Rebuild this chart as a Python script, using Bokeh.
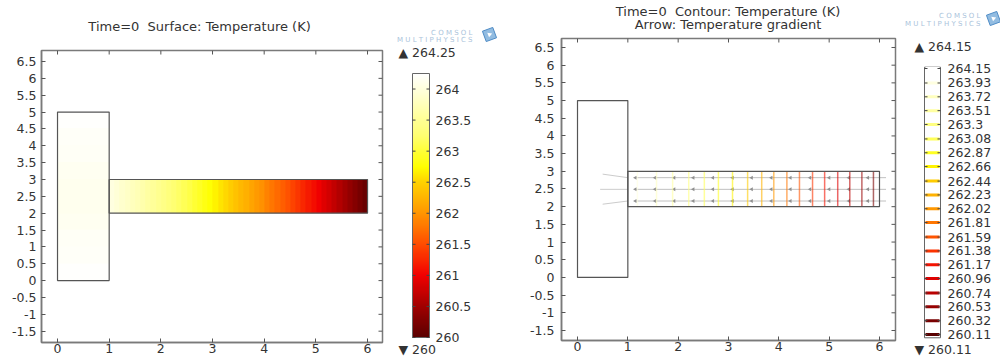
import math
import numpy as np
from bokeh.plotting import figure
from bokeh.layouts import row, column
from bokeh.models import Range1d, FixedTicker, ColumnDataSource, LinearColorMapper
from bokeh.transform import linear_cmap
from bokeh.embed import file_html
from bokeh.resources import INLINE
from bokeh.core.properties import value

FONT = "DejaVu Sans"
TXT = "#333333"
FRAME = "#7a7a7a"
LBL = "12.5px"

# ---------------- data ----------------
left_title = "Time=0  Surface: Temperature (K)"
right_title = ["Time=0  Contour: Temperature (K)", "Arrow: Temperature gradient"]

x_ticks = [0, 1, 2, 3, 4, 5, 6]
x_tick_labels = ["0", "1", "2", "3", "4", "5", "6"]
y_ticks = [-1.5, -1, -0.5, 0, 0.5, 1, 1.5, 2, 2.5, 3, 3.5, 4, 4.5, 5, 5.5, 6, 6.5]
y_tick_labels = ["-1.5", "-1", "-0.5", "0", "0.5", "1", "1.5", "2", "2.5", "3",
                 "3.5", "4", "4.5", "5", "5.5", "6", "6.5"]

# T-shaped domain: (left, right, bottom, top)
stem_box = (0, 1, 0, 5)
bar_box = (1, 6, 2, 3)

# surface temperature (K)
surf_stem_T = [264.22, 264.2, 264.18, 264.15, 264.12, 264.12, 264.15, 264.18, 264.2, 264.22]
surf_bar_T = [264.02, 263.96, 263.90, 263.84, 263.78, 263.72, 263.66, 263.59, 263.53, 263.46,
              263.40, 263.33, 263.27, 263.20, 263.13, 263.06, 262.98, 262.91, 262.83, 262.76,
              262.68, 262.60, 262.53, 262.45, 262.37, 262.29, 262.21, 262.12, 262.04, 261.96,
              261.87, 261.79, 261.70, 261.62, 261.53, 261.44, 261.35, 261.26, 261.17, 261.08,
              260.98, 260.89, 260.80, 260.70, 260.61, 260.51, 260.41, 260.31, 260.21, 260.10]

surf_min, surf_max = 260.0, 264.25
surf_cbar_ticks = [260, 260.5, 261, 261.5, 262, 262.5, 263, 263.5, 264]
surf_cbar_labels = ["260", "260.5", "261", "261.5", "262", "262.5", "263", "263.5", "264"]

contour_levels = [264.15, 263.93, 263.72, 263.51, 263.3, 263.08, 262.87, 262.66, 262.44, 262.23,
                  262.02, 261.81, 261.59, 261.38, 261.17, 260.96, 260.74, 260.53, 260.32, 260.11]
contour_labels = ["264.15", "263.93", "263.72", "263.51", "263.3", "263.08", "262.87", "262.66",
                  "262.44", "262.23", "262.02", "261.81", "261.59", "261.38", "261.17", "260.96",
                  "260.74", "260.53", "260.32", "260.11"]
# x position of each interior contour level (263.93 ... 260.32) along the bar
contour_x = [1.19, 1.57, 1.89, 2.21, 2.52, 2.80, 3.08, 3.38, 3.66, 3.90,
             4.16, 4.41, 4.67, 4.91, 5.17, 5.41, 5.65, 5.88]

arrow_rows_y = [2.16, 2.49, 2.82]
arrow_head_x = [1.15, 1.54, 1.92, 2.3, 2.69, 3.08, 3.46, 3.85, 4.23, 4.62, 5.0, 5.39, 5.77]
arrow_len = 0.36

# ---------------- colour map (heat) ----------------
pal_stops = [0.0, 0.118, 0.235, 0.353, 0.471, 0.588, 0.647, 0.765, 0.882, 1.0]
pal_colors = ["#5a0000", "#a20000", "#f20000", "#ff4d00", "#ff9600", "#ffd200",
              "#ffff00", "#ffff70", "#ffffb8", "#ffffff"]


def build_palette(n=256):
    rgb = [tuple(int(c[i:i + 2], 16) for i in (1, 3, 5)) for c in pal_colors]
    out = []
    for k in range(n):
        f = k / (n - 1)
        r, g, b = [float(np.interp(f, pal_stops, [c[j] for c in rgb])) for j in range(3)]
        out.append("#%02x%02x%02x" % (round(r), round(g), round(b)))
    return out


PALETTE = build_palette()
H = 358


def keep_spaces(s):
    return s.replace("  ", " \u00a0")


def bare_figure(width, height, xr, yr):
    p = figure(width=width, height=height, x_range=Range1d(*xr), y_range=Range1d(*yr),
               output_backend="svg", toolbar_location=None,
               x_axis_location=None, y_axis_location=None,
               min_border_left=0, min_border_right=0, min_border_top=0, min_border_bottom=0)
    p.grid.visible = False
    p.outline_line_color = None
    p.background_fill_color = "white"
    p.border_fill_color = "white"
    return p


def add_text(p, xs, ys, texts, size=LBL, align="left", color=TXT, baseline="middle"):
    p.text(x=xs, y=ys, text=texts, text_font=value(FONT), text_font_size=value(size),
           text_align=align, text_baseline=baseline, text_color=color)


def style_axis(ax, ticks, labels, standoff):
    ax.ticker = FixedTicker(ticks=ticks)
    ax.major_label_overrides = {t: l for t, l in zip(ticks, labels)}
    ax.minor_tick_line_color = None
    ax.major_tick_in = 4
    ax.major_tick_out = 0
    ax.major_tick_line_color = "#555555"
    ax.axis_line_color = FRAME
    ax.axis_line_width = 1.5
    ax.major_label_text_font = FONT
    ax.major_label_text_color = TXT
    ax.major_label_text_font_size = LBL
    ax.major_label_standoff = standoff
    ax.axis_label = None


def make_main(x0, width, fl, fr, ft, fb, xr, yr, left_standoff):
    """Title strip + plot; frame edges fl, fr, ft, fb in picture pixels."""
    title_h = ft - 4
    t = bare_figure(width, title_h, (x0, x0 + width), (title_h, 0))
    p = figure(width=width, height=H - title_h, x_range=Range1d(*xr), y_range=Range1d(*yr),
               output_backend="svg", toolbar_location=None,
               min_border_left=fl - x0, min_border_right=x0 + width - fr,
               min_border_top=4, min_border_bottom=H - fb)
    p.grid.visible = False
    p.outline_line_color = FRAME
    p.outline_line_width = 1.5
    p.background_fill_color = "white"
    p.border_fill_color = "white"
    style_axis(p.xaxis[0], x_ticks, x_tick_labels, 1)
    style_axis(p.yaxis[0], y_ticks, y_tick_labels, left_standoff)
    # inward ticks on the top and right frame edges
    ux = (xr[1] - xr[0]) / (fr - fl)
    uy = (yr[1] - yr[0]) / (fb - ft)
    p.segment(x0=x_ticks, x1=x_ticks, y0=yr[1], y1=yr[1] - 4 * uy, line_color="#555555")
    p.segment(x0=xr[1], x1=xr[1] - 4 * ux, y0=y_ticks, y1=y_ticks, line_color="#555555")
    return t, p


def make_side(x0, width, t_top, py_top, t_bot, py_bot):
    k = (t_top - t_bot) / (py_bot - py_top)
    yr = (t_bot - (H - py_bot) * k, t_top + py_top * k)
    p = bare_figure(width, H, (x0, x0 + width), yr)

    def t_of(py):
        return t_top - (py - py_top) * k
    return p, t_of


def add_logo(p, t_of, x_right, py_line1, py_line2, x_icon, py_icon):
    add_text(p, [x_right], [t_of(py_line1)], ["C O M S O L"], size="7px", align="right",
             color="#aac3db")
    add_text(p, [x_right], [t_of(py_line2)], ["M U L T I P H Y S I C S"], size="7px",
             align="right", color="#aac3db")
    p.scatter([x_icon], [t_of(py_icon)], marker="square", size=11, angle=0.35,
              fill_color="#7fb0dc", line_color="#4f8cc6", fill_alpha=0.85)
    p.scatter([x_icon], [t_of(py_icon)], marker="triangle", size=5, angle=-1.2,
              fill_color="white", line_color=None)


mapper_surf = LinearColorMapper(palette=PALETTE, low=surf_min, high=surf_max)
cm_cont = linear_cmap("T", PALETTE, contour_levels[-1], contour_levels[0])

# ---------------- left panel: surface ----------------
tA, pA = make_main(0, 384, 41, 382, 50, 342, (-0.31, 6.29), (-1.836, 6.826), 5)
add_text(tA, [178], [26], [keep_spaces(left_title)], size="13px", align="center")

pA.image(image=[np.array(surf_stem_T).reshape(-1, 1)], x=stem_box[0], y=stem_box[2],
         dw=stem_box[1] - stem_box[0], dh=stem_box[3] - stem_box[2], color_mapper=mapper_surf)
pA.image(image=[np.array(surf_bar_T).reshape(1, -1)], x=bar_box[0], y=bar_box[2],
         dw=bar_box[1] - bar_box[0], dh=bar_box[3] - bar_box[2], color_mapper=mapper_surf)
pA.quad(left=[stem_box[0], bar_box[0]], right=[stem_box[1], bar_box[1]],
        bottom=[stem_box[2], bar_box[2]], top=[stem_box[3], bar_box[3]],
        fill_color=None, line_color="#555555", line_width=1.2)

# colour bar
pB, tB = make_side(384, 116, surf_max, 73, surf_min, 337)
scale = np.linspace(surf_min, surf_max, 256).reshape(-1, 1)
pB.image(image=[scale], x=412, y=surf_min, dw=17, dh=surf_max - surf_min,
         color_mapper=mapper_surf)
pB.quad(left=[412], right=[429], bottom=[surf_min], top=[surf_max], fill_color=None,
        line_color="#666666", line_width=1)
pB.segment(x0=412, x1=415, y0=surf_cbar_ticks, y1=surf_cbar_ticks, line_color="#444444")
pB.segment(x0=426, x1=429, y0=surf_cbar_ticks, y1=surf_cbar_ticks, line_color="#444444")
add_text(pB, [435] * len(surf_cbar_ticks), surf_cbar_ticks, surf_cbar_labels)
add_text(pB, [398], [tB(52)], ["\u25b2 264.25"])
add_text(pB, [398], [tB(349)], ["\u25bc 260"])
add_logo(pB, tB, 472, 32, 39, 489, 34)

# ---------------- right panel: contour + arrows ----------------
tC, pC = make_main(500, 397, 561, 895, 38, 340, (-0.318, 6.318), (-1.783, 6.754), 7)
add_text(tC, [698, 698], [11, 24], [keep_spaces(s) for s in right_title], size="13px",
         align="center")

ax_x, ax_y = [], []
for yv in arrow_rows_y:
    for xv in arrow_head_x:
        ax_x.append(xv)
        ax_y.append(yv)
pC.segment(x0=ax_x, y0=ax_y, x1=[v + arrow_len for v in ax_x], y1=ax_y,
           line_color="#c0c0c0", line_width=1)
pC.scatter(ax_x, ax_y, marker="triangle", size=4, angle=math.pi / 2,
           fill_color="#909090", line_color=None)
pC.segment(x0=[1.0, 1.0, 1.0], y0=arrow_rows_y, x1=[0.5, 0.45, 0.5], y1=[2.07, 2.49, 2.92],
           line_color="#cccccc", line_width=1)

cont_src = ColumnDataSource(dict(x=contour_x, T=contour_levels[1:-1]))
pC.segment(x0="x", x1="x", y0=bar_box[2], y1=bar_box[3], source=cont_src,
           line_color=cm_cont, line_width=1.5, line_alpha=0.6)

pC.quad(left=[stem_box[0], bar_box[0]], right=[stem_box[1], bar_box[1]],
        bottom=[stem_box[2], bar_box[2]], top=[stem_box[3], bar_box[3]],
        fill_color=None, line_color="#555555", line_width=1.2)

# contour legend
pD, tD = make_side(897, 103, contour_levels[0], 68, contour_levels[-1], 334)
pD.quad(left=[924], right=[940], bottom=[contour_levels[-1] - 0.05],
        top=[contour_levels[0] + 0.02], fill_color="white", line_color="#666666", line_width=1)
leg_src = ColumnDataSource(dict(y=contour_levels, T=contour_levels))
pD.segment(x0=925, x1=939, y0="y", y1="y", source=leg_src, line_color=cm_cont, line_width=3)
pD.segment(x0=924, x1=927, y0=contour_levels, y1=contour_levels, line_color="#444444")
pD.segment(x0=937, x1=940, y0=contour_levels, y1=contour_levels, line_color="#444444")
add_text(pD, [947] * len(contour_levels), contour_levels, contour_labels)
add_text(pD, [914], [tD(46)], ["\u25b2 264.15"])
add_text(pD, [914], [tD(349)], ["\u25bc 260.11"])
add_logo(pD, tD, 980, 15, 23, 993, 18)

layout = row(column(tA, pA, spacing=0), pB, column(tC, pC, spacing=0), pD, spacing=0)
with open("out.html", "w") as f:
    f.write(file_html(layout, INLINE))
